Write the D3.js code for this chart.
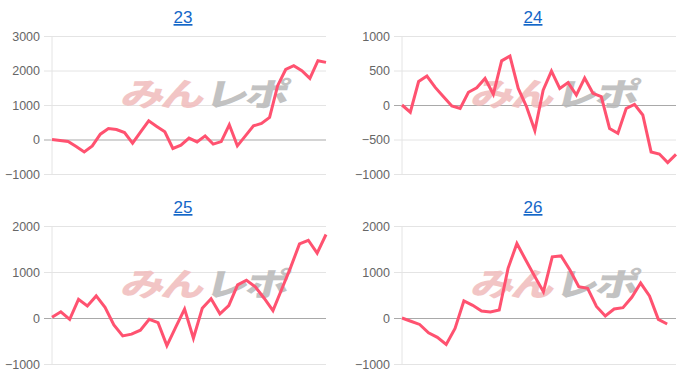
<!DOCTYPE html>
<html>
<head>
<meta charset="utf-8">
<script src="https://cdn.jsdelivr.net/npm/d3@7"></script>
<style>
  body { margin: 0; background: #fff; }
  .tick text { font-family: "Liberation Sans", Arial, sans-serif; }
</style>
</head>
<body>
<script>
//==================================================================//
//  DATA
//==================================================================//

    // panel titles (machine numbers)
    var titles = ["23", "24", "25", "26"];

    // number of x slots on each panel
    var slots = [35, 34, 32, 32];

    // y axis ticks per panel
    var ticks23 = [-1000, 0, 1000, 2000, 3000];
    var ticks24 = [-1000, -500, 0, 500, 1000];
    var ticks25 = [-1000, 0, 1000, 2000];
    var ticks26 = [-1000, 0, 1000, 2000];

    // series values
    var s23 = [0, -30, -60, -200, -360, -185, 155, 320, 290, 200, -105, 220, 540, 380, 225, -260, -165, 40,
               -70, 105, -135, -60, 425, -185, 105, 395, 465, 640, 1560, 2030, 2140, 1995, 1770, 2285, 2235];
    var s24 = [0, -105, 340, 420, 255, 120, -15, -50, 185, 250, 385, 155, 640, 710, 240, -25, -370, 215,
               490, 240, 325, 145, 390, 170, 120, -340, -410, -50, 10, -145, -680, -710, -835, -715];
    var s25 = [15, 135, -30, 405, 260, 480, 230, -150, -390, -350, -265, -30, -100, -600, -200, 195, -440,
               210, 420, 90, 270, 720, 820, 680, 430, 160, 630, 1100, 1610, 1690, 1410, 1815];
    var s26 = [0, -70, -140, -320, -420, -575, -225, 370, 275, 150, 130, 175, 1080, 1620, 1260, 910, 570,
               1330, 1350, 1045, 680, 645, 250, 45, 195, 225, 450, 760, 480, -30, -130, null];

    var series = [s23, s24, s25, s26];
    var tickSets = [ticks23, ticks24, ticks25, ticks26];

//==================================================================//
//  LAYOUT
//==================================================================//

    var W = 700, H = 380;
    var panelW = 350, panelH = 190;
    var plot = {left: 52, right: 326, top: 36, bottom: 174};

    var svg = d3.select("body")
        .append("svg")
        .attr("width", W)
        .attr("height", H);

//==================================================================//
//  PANELS
//==================================================================//

titles.forEach(function(title, i) {

    var data = series[i];
    var tks = tickSets[i];

    var g = svg.append("g")
        .attr("transform", "translate(" + (i % 2) * panelW + "," + Math.floor(i / 2) * panelH + ")");

    // x: one point per slot
    var x = d3.scalePoint()
        .domain(d3.range(slots[i]))
        .range([plot.left, plot.right]);

    // y: from first to last tick
    var y = d3.scaleLinear()
        .domain([tks[0], tks[tks.length - 1]])
        .range([plot.bottom, plot.top]);

    // gridlines
    g.append("g")
        .attr("transform", "translate(" + plot.left + ",0)")
        .call(d3.axisLeft(y)
            .tickValues(tks)
            .tickSize(-(plot.right - plot.left))
            .tickFormat(""))
        .call(function(a) {
            a.select(".domain").remove();
            a.selectAll("line")
                .attr("x1", -8)
                .attr("stroke", function(d) { return d === 0 ? "#a9a9a9" : "#e4e4e4"; });
        });

    // left axis line
    g.append("line")
        .attr("x1", plot.left).attr("x2", plot.left)
        .attr("y1", plot.top).attr("y2", plot.bottom)
        .attr("stroke", "#e4e4e4");

    // tick labels
    g.append("g")
        .attr("transform", "translate(" + (plot.left - 12) + ",0)")
        .call(d3.axisLeft(y).tickValues(tks).tickSize(0).tickPadding(0).tickFormat(d3.format("d")))
        .call(function(a) {
            a.select(".domain").remove();
            a.selectAll("text")
                .attr("fill", "#666")
                .style("font-size", "12.5px");
        });

    // watermark
    var wm = g.append("g")
        .attr("transform", "translate(200,106) scale(1.15,0.85) skewX(-10)")
        .attr("opacity", 0.85);
    wm.append("text")
        .attr("text-anchor", "end")
        .attr("x", 0)
        .style("font-family", "'Noto Sans CJK JP'")
        .style("font-weight", 900)
        .style("font-size", "38px")
        .style("letter-spacing", "-3px")
        .attr("fill", "#f0bcbc")
        .text("みん");
    wm.append("text")
        .attr("text-anchor", "start")
        .attr("x", 3)
        .style("font-family", "'Noto Sans CJK JP'")
        .style("font-weight", 900)
        .style("font-size", "38px")
        .style("letter-spacing", "-3px")
        .attr("fill", "#b8b8b8")
        .text("レポ");

    // title
    g.append("text")
        .attr("x", 183)
        .attr("y", 23)
        .attr("text-anchor", "middle")
        .style("font-family", "'Liberation Sans', Arial, sans-serif")
        .style("font-size", "17px")
        .style("text-decoration", "underline")
        .attr("fill", "#1467c8")
        .text(title);

    // series line
    var line = d3.line()
        .defined(function(d) { return d !== null; })
        .x(function(d, j) { return x(j); })
        .y(function(d) { return y(d); });

    g.append("path")
        .datum(data)
        .attr("d", line)
        .attr("fill", "none")
        .attr("stroke", "#ff5270")
        .attr("stroke-width", 3)
        .attr("stroke-linejoin", "miter");
});
</script>
</body>
</html>
